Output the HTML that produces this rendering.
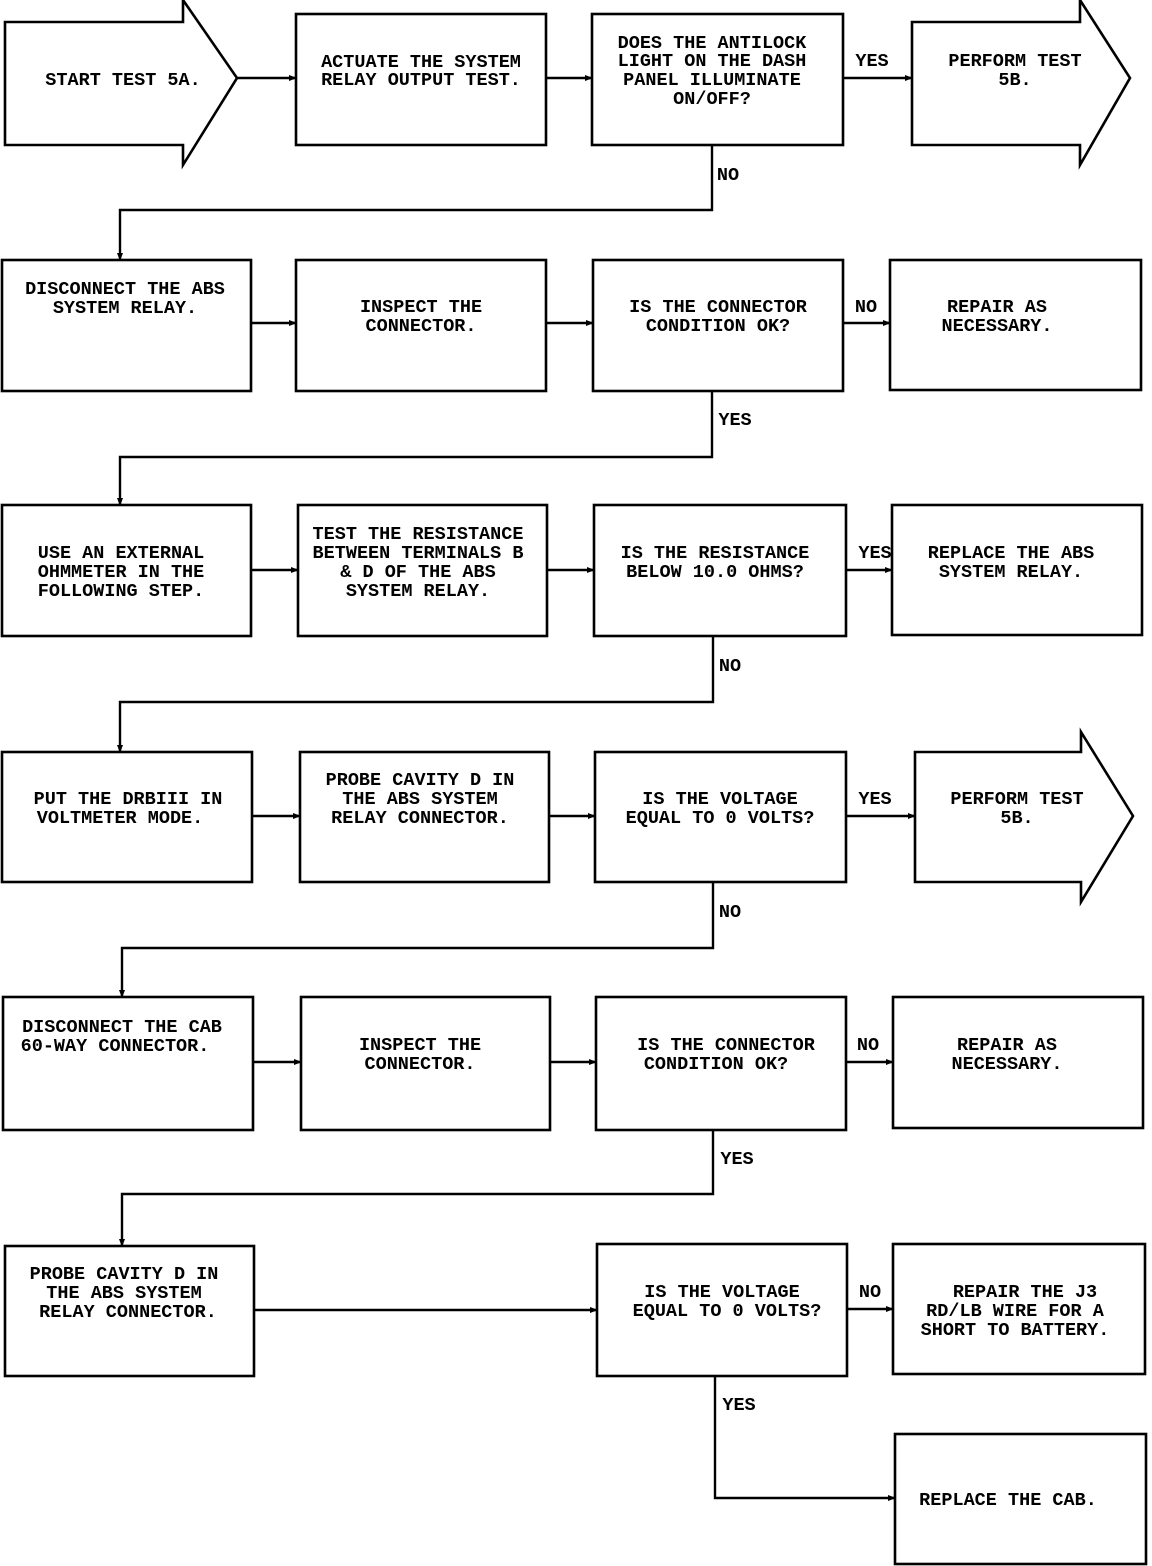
<!DOCTYPE html>
<html><head><meta charset="utf-8"><style>
html,body{margin:0;padding:0;background:#fff;}
svg{display:block;}
text{font-family:"Liberation Mono","DejaVu Sans Mono",monospace;font-size:18.5px;font-weight:bold;fill:#000;text-anchor:middle;}
</style></head><body>
<svg width="1152" height="1566" viewBox="0 0 1152 1566" xmlns="http://www.w3.org/2000/svg">
<defs><marker id="a" markerWidth="8" markerHeight="6" refX="7" refY="3" orient="auto" markerUnits="userSpaceOnUse"><path d="M0,0 L8,3 L0,6z" fill="#000"/></marker></defs>
<g fill="none" stroke="#000" stroke-width="2.6">
<path d="M5,22 H183 V0 L237,78 L183,165 V145 H5 Z"/>
<rect x="296" y="14" width="250" height="131"/>
<rect x="592" y="14" width="251" height="131"/>
<path d="M912,22 H1080 V0 L1130,78 L1080,165 V145 H912 Z"/>
<rect x="2" y="260" width="249" height="131"/>
<rect x="296" y="260" width="250" height="131"/>
<rect x="593" y="260" width="250" height="131"/>
<rect x="890" y="260" width="251" height="130"/>
<rect x="2" y="505" width="249" height="131"/>
<rect x="298" y="505" width="249" height="131"/>
<rect x="594" y="505" width="252" height="131"/>
<rect x="892" y="505" width="250" height="130"/>
<rect x="2" y="752" width="250" height="130"/>
<rect x="300" y="752" width="249" height="130"/>
<rect x="595" y="752" width="251" height="130"/>
<path d="M915,752 H1081 V732 L1133,816 L1081,902 V882 H915 Z"/>
<rect x="3" y="997" width="250" height="133"/>
<rect x="301" y="997" width="249" height="133"/>
<rect x="596" y="997" width="250" height="133"/>
<rect x="893" y="997" width="250" height="131"/>
<rect x="5" y="1246" width="249" height="130"/>
<rect x="597" y="1244" width="250" height="132"/>
<rect x="893" y="1244" width="252" height="130"/>
<rect x="895" y="1434" width="251" height="130"/>
</g>
<g fill="none" stroke="#000" stroke-width="2.4" marker-end="url(#a)">
<path d="M237,78 H296"/><path d="M546,78 H592"/><path d="M843,78 H912"/>
<path d="M712,145 V210 H120 V260"/>
<path d="M251,323 H296"/><path d="M546,323 H593"/><path d="M843,323 H890"/>
<path d="M712,391 V457 H120 V505"/>
<path d="M251,570 H298"/><path d="M547,570 H594"/><path d="M846,570 H892"/>
<path d="M713,636 V702 H120 V752"/>
<path d="M252,816 H300"/><path d="M549,816 H595"/><path d="M846,816 H915"/>
<path d="M713,882 V948 H122 V997"/>
<path d="M253,1062 H301"/><path d="M550,1062 H596"/><path d="M846,1062 H893"/>
<path d="M713,1130 V1194 H122 V1246"/>
<path d="M254,1310 H597"/><path d="M847,1309 H893"/>
<path d="M715,1376 V1498 H895"/>
</g>
<g>
<text x="123" y="85">START TEST 5A.</text>
<text x="421" y="67">ACTUATE THE SYSTEM</text><text x="421" y="85">RELAY OUTPUT TEST.</text>
<text x="712" y="48">DOES THE ANTILOCK</text><text x="712" y="66">LIGHT ON THE DASH</text><text x="712" y="85">PANEL ILLUMINATE</text><text x="712" y="104">ON/OFF?</text>
<text x="872" y="66">YES</text>
<text x="1015" y="66">PERFORM TEST</text><text x="1015" y="85">5B.</text>
<text x="728" y="180">NO</text>
<text x="125" y="294">DISCONNECT THE ABS</text><text x="125" y="313">SYSTEM RELAY.</text>
<text x="421" y="312">INSPECT THE</text><text x="421" y="331">CONNECTOR.</text>
<text x="718" y="312">IS THE CONNECTOR</text><text x="718" y="331">CONDITION OK?</text>
<text x="866" y="312">NO</text>
<text x="997" y="312">REPAIR AS</text><text x="997" y="331">NECESSARY.</text>
<text x="735" y="425">YES</text>
<text x="121" y="558">USE AN EXTERNAL</text><text x="121" y="577">OHMMETER IN THE</text><text x="121" y="596">FOLLOWING STEP.</text>
<text x="418" y="539">TEST THE RESISTANCE</text><text x="418" y="558">BETWEEN TERMINALS B</text><text x="418" y="577">&amp; D OF THE ABS</text><text x="418" y="596">SYSTEM RELAY.</text>
<text x="715" y="558">IS THE RESISTANCE</text><text x="715" y="577">BELOW 10.0 OHMS?</text>
<text x="875" y="558">YES</text>
<text x="1011" y="558">REPLACE THE ABS</text><text x="1011" y="577">SYSTEM RELAY.</text>
<text x="730" y="671">NO</text>
<text x="128" y="804">PUT THE DRBIII IN</text><text x="120" y="823">VOLTMETER MODE.</text>
<text x="420" y="785">PROBE CAVITY D IN</text><text x="420" y="804">THE ABS SYSTEM</text><text x="420" y="823">RELAY CONNECTOR.</text>
<text x="720" y="804">IS THE VOLTAGE</text><text x="720" y="823">EQUAL TO 0 VOLTS?</text>
<text x="875" y="804">YES</text>
<text x="1017" y="804">PERFORM TEST</text><text x="1017" y="823">5B.</text>
<text x="730" y="917">NO</text>
<text x="122" y="1032">DISCONNECT THE CAB</text><text x="115" y="1051">60-WAY CONNECTOR.</text>
<text x="420" y="1050">INSPECT THE</text><text x="420" y="1069">CONNECTOR.</text>
<text x="726" y="1050">IS THE CONNECTOR</text><text x="716" y="1069">CONDITION OK?</text>
<text x="868" y="1050">NO</text>
<text x="1007" y="1050">REPAIR AS</text><text x="1007" y="1069">NECESSARY.</text>
<text x="737" y="1164">YES</text>
<text x="124" y="1279">PROBE CAVITY D IN</text><text x="124" y="1298">THE ABS SYSTEM</text><text x="128" y="1317">RELAY CONNECTOR.</text>
<text x="722" y="1297">IS THE VOLTAGE</text><text x="727" y="1316">EQUAL TO 0 VOLTS?</text>
<text x="870" y="1297">NO</text>
<text x="1025" y="1297">REPAIR THE J3</text><text x="1015" y="1316">RD/LB WIRE FOR A</text><text x="1015" y="1335">SHORT TO BATTERY.</text>
<text x="739" y="1410">YES</text>
<text x="1008" y="1505">REPLACE THE CAB.</text>
</g>
</svg>
</body></html>
